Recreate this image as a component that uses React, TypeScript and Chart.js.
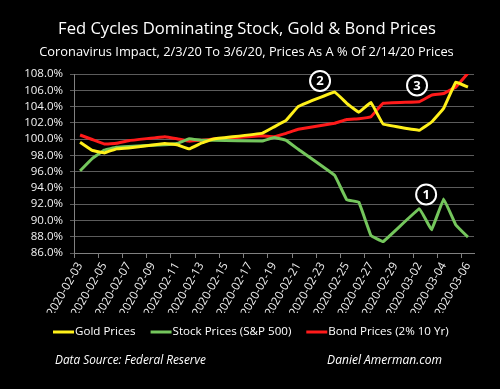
import React, { useEffect, useRef } from 'react';
import { Chart, registerables } from 'chart.js';

Chart.register(...registerables);

// ---- Data ----
const tradingDates = [
  '2020-02-03', '2020-02-04', '2020-02-05', '2020-02-06', '2020-02-07',
  '2020-02-10', '2020-02-11', '2020-02-12', '2020-02-13', '2020-02-14',
  '2020-02-18', '2020-02-19', '2020-02-20', '2020-02-21',
  '2020-02-24', '2020-02-25', '2020-02-26', '2020-02-27', '2020-02-28',
  '2020-03-02', '2020-03-03', '2020-03-04', '2020-03-05', '2020-03-06',
];
const goldPrices = [
  99.6, 98.6, 98.3, 98.8, 98.9,
  99.45, 99.3, 98.8, 99.5, 100.0,
  100.7, 101.5, 102.3, 104.0,
  105.8, 104.4, 103.3, 104.5, 101.85,
  101.1, 102.1, 103.8, 107.0, 106.4,
];
const stockPrices = [
  96.1, 97.6, 98.65, 99.0, 99.1,
  99.3, 99.45, 100.05, 99.85, 99.85,
  99.75, 100.2, 99.85, 98.75,
  95.55, 92.55, 92.25, 88.15, 87.4,
  91.45, 88.85, 92.65, 89.45, 87.95,
];
const bondPrices = [
  100.5, 99.95, 99.4, 99.5, 99.8,
  100.3, 100.05, 99.75, 99.85, 100.0,
  100.4, 100.3, 100.7, 101.2,
  101.95, 102.4, 102.5, 102.75, 104.4,
  104.6, 105.4, 105.6, 106.4, 108.1,
];
const seriesLabels = ['Gold Prices', 'Stock Prices (S&P 500)', 'Bond Prices (2% 10 Yr)'];
const seriesColors = ['#FFF01A', '#74C65C', '#FF1A1A'];

const axisStartDate = '2020-02-03';
const axisDays = 33;
const tickEvery = 2;
const yMin = 86;
const yMax = 108;
const yStep = 2;

// circled call-outs (in axis units: day offset, percent)
const markerLabels = ['1', '2', '3'];
const markerDays = [29.05, 20.3, 28.3];
const markerValues = [93.2, 107.15, 106.6];

const titleText = 'Fed Cycles Dominating Stock, Gold & Bond Prices';
const subtitleText = 'Coronavirus Impact, 2/3/20 To 3/6/20, Prices As A % Of 2/14/20 Prices';
const sourceText = 'Data Source: Federal Reserve';
const creditText = 'Daniel Amerman.com';

const FONT = '"Open Sans", "Noto Sans", sans-serif';

const DAY = 86400000;
const dayIndex = (s: string) => Math.round((Date.parse(s) - Date.parse(axisStartDate)) / DAY);
const dayLabel = (i: number) => new Date(Date.parse(axisStartDate) + i * DAY).toISOString().slice(0, 10);

function fitFont(ctx: CanvasRenderingContext2D, text: string, width: number, style: string) {
  ctx.font = `${style} 100px ${FONT}`;
  const w = ctx.measureText(text).width;
  const size = (100 * width) / w;
  ctx.font = `${style} ${size}px ${FONT}`;
  return size;
}

const decorPlugin = {
  id: 'decor',
  beforeDraw(chart: any) {
    const ctx = chart.ctx as CanvasRenderingContext2D;
    ctx.save();
    ctx.fillStyle = '#000';
    ctx.fillRect(0, 0, chart.width, chart.height);
    ctx.restore();
  },
  afterDatasetsDraw(chart: any) {
    const ctx = chart.ctx as CanvasRenderingContext2D;
    const xs = chart.scales.x;
    const ys = chart.scales.y;
    ctx.save();
    markerLabels.forEach((lab, i) => {
      const cx = xs.getPixelForValue(markerDays[i]);
      const cy = ys.getPixelForValue(markerValues[i]);
      ctx.beginPath();
      ctx.arc(cx, cy, 10, 0, Math.PI * 2);
      ctx.fillStyle = '#000';
      ctx.fill();
      ctx.lineWidth = 2;
      ctx.strokeStyle = '#fff';
      ctx.stroke();
      ctx.fillStyle = '#fff';
      ctx.font = `bold 13px ${FONT}`;
      ctx.textAlign = 'center';
      ctx.textBaseline = 'middle';
      ctx.fillText(lab, cx, cy + 0.5);
    });
    ctx.restore();
  },
  afterDraw(chart: any) {
    const ctx = chart.ctx as CanvasRenderingContext2D;
    ctx.save();
    ctx.fillStyle = '#fff';
    ctx.textBaseline = 'middle';
    ctx.textAlign = 'center';
    fitFont(ctx, titleText, 378, 'normal');
    ctx.fillText(titleText, 247, 29);
    fitFont(ctx, subtitleText, 415, 'normal');
    ctx.fillText(subtitleText, 246.5, 52);

    // legend
    const sample = 21;
    const gap = 1;
    const itemGap = 15;
    ctx.font = `normal 100px ${FONT}`;
    const raw = seriesLabels.map((t) => ctx.measureText(t).width);
    const rawTotal = raw.reduce((a, b) => a + b, 0);
    const targetTotal = 396 - seriesLabels.length * (sample + gap) - (seriesLabels.length - 1) * itemGap;
    const lsize = (100 * targetTotal) / rawTotal;
    ctx.font = `normal ${lsize}px ${FONT}`;
    let x = 53;
    const ly = 332;
    ctx.textAlign = 'left';
    seriesLabels.forEach((t, i) => {
      ctx.strokeStyle = seriesColors[i];
      ctx.lineWidth = 3;
      ctx.beginPath();
      ctx.moveTo(x, ly);
      ctx.lineTo(x + sample, ly);
      ctx.stroke();
      x += sample + gap;
      ctx.fillStyle = '#fff';
      ctx.fillText(t, x, ly);
      x += ctx.measureText(t).width + itemGap;
    });

    // footer
    fitFont(ctx, sourceText, 151, 'italic');
    ctx.textAlign = 'left';
    ctx.fillText(sourceText, 55, 361);
    fitFont(ctx, creditText, 115, 'italic');
    ctx.textAlign = 'right';
    ctx.fillText(creditText, 442, 361);
    ctx.restore();
  },
};

export default function App() {
  const ref = useRef<HTMLCanvasElement | null>(null);

  useEffect(() => {
    document.body.style.margin = '0';
    document.body.style.background = '#000';
    const canvas = ref.current;
    if (!canvas) return;

    const mk = (vals: number[]) => tradingDates.map((d, i) => ({ x: dayIndex(d) + 0.5, y: vals[i] }));
    const allSeries = [goldPrices, stockPrices, bondPrices];

    const chart = new Chart(canvas, {
      type: 'line',
      data: {
        datasets: allSeries.map((vals, i) => ({
          label: seriesLabels[i],
          data: mk(vals),
          borderColor: seriesColors[i],
          backgroundColor: seriesColors[i],
          borderWidth: 3,
          pointRadius: 0,
          tension: 0.05,
          borderJoinStyle: 'round',
          fill: false,
          clip: 0,
        })),
      },
      options: {
        responsive: false,
        animation: false,
        devicePixelRatio: 1,
        layout: { padding: { top: 74, right: 26, left: 0, bottom: 76 } },
        plugins: {
          legend: { display: false },
          title: { display: false },
          tooltip: { enabled: false },
        },
        scales: {
          x: {
            type: 'linear',
            min: 0,
            max: axisDays,
            afterBuildTicks: (s: any) => {
              const t = [];
              for (let i = 0; i < axisDays; i += tickEvery) t.push({ value: i });
              s.ticks = t;
            },
            afterFit: (s: any) => {
              s.height = 60;
            },
            ticks: {
              autoSkip: false,
              minRotation: 60,
              maxRotation: 60,
              labelOffset: 6,
              color: '#f2f2f2',
              font: { family: FONT, size: 11.5 },
              padding: 2,
              callback: (v: any) => dayLabel(Number(v)),
            },
            grid: {
              drawOnChartArea: false,
              drawTicks: true,
              tickLength: 5,
              color: '#808080',
            },
            border: { color: '#808080', width: 1 },
          },
          y: {
            min: yMin,
            max: yMax,
            afterBuildTicks: (s: any) => {
              const t = [];
              for (let v = yMin; v <= yMax + 1e-9; v += yStep) t.push({ value: v });
              s.ticks = t;
            },
            afterFit: (s: any) => {
              s.width = 74;
            },
            ticks: {
              autoSkip: false,
              stepSize: yStep,
              color: '#f2f2f2',
              font: { family: FONT, size: 11.5 },
              padding: 7,
              callback: (v: any) => Number(v).toFixed(1) + '%',
            },
            grid: {
              color: '#5c5c5c',
              tickLength: 4,
              lineWidth: 1,
            },
            border: { color: '#808080', width: 1 },
          },
        },
      },
      plugins: [decorPlugin],
    } as any);

    return () => chart.destroy();
  }, []);

  return (
    <div style={{ width: 500, height: 389, background: '#000' }}>
      <canvas ref={ref} width={500} height={389} style={{ display: 'block' }} />
    </div>
  );
}
